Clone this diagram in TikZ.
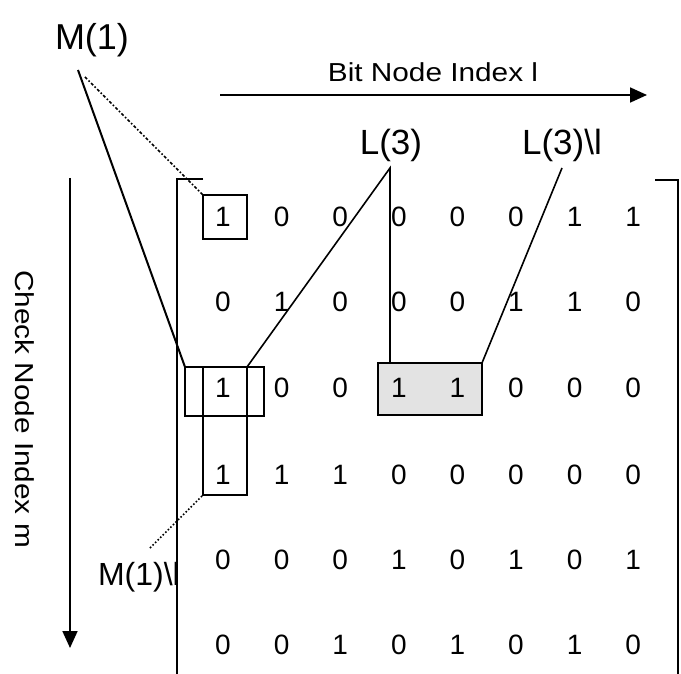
\documentclass[tikz,border=0pt]{standalone}
\usepackage{graphicx}
\usepackage{fontspec}
\setmainfont{Liberation Sans}
\usetikzlibrary{arrows.meta}
\begin{document}
\begin{tikzpicture}[x=1pt,y=-1pt,
  digit/.style={font=\fontsize{28}{28}\selectfont, inner sep=0pt},
  lbl/.style={font=\fontsize{35}{35}\selectfont, inner sep=0pt, anchor=base},
  axislbl/.style={font=\fontsize{26}{26}\selectfont, inner sep=0pt, anchor=base},
  hibox/.style={draw, line width=2.4pt, inner sep=0pt, outer sep=0pt},
  bracket/.style={line width=2.6pt},
  conn/.style={line width=1.6pt},
  axisarrow/.style={line width=1.8pt, -{Triangle[length=17pt,width=15pt]}}
]
\useasboundingbox (0,0) rectangle (681,674);

% highlight boxes (drawn first so digits lie on top)
\node[hibox, fill=gray!22, minimum width=104pt, minimum height=52pt] (greybox) at (430,389) {};
\node[hibox, minimum width=44pt, minimum height=44pt] (b11) at (225,217) {};
\node[hibox, minimum width=79pt, minimum height=49pt] (rowbox) at (224.5,391.5) {};
\node[hibox, minimum width=44pt, minimum height=128pt] (colbox) at (225,431) {};

% matrix entries
\foreach \r/\y/\vals in {1/217/{1,0,0,0,0,0,1,1},
                          2/302/{0,1,0,0,0,1,1,0},
                          3/388/{1,0,0,1,1,0,0,0},
                          4/475/{1,1,1,0,0,0,0,0},
                          5/560/{0,0,0,1,0,1,0,1},
                          6/645/{0,0,1,0,1,0,1,0}}{
  \foreach \v [count=\c] in \vals {
    \node[digit] (e-\r-\c) at ({223+(\c-1)*58.6},\y) {\v};
  }
}

% brackets
\draw[bracket] (203,179) -- (177,179) -- (177,674);
\draw[bracket] (655,180) -- (678,180) -- (678,674);

% labels
\node[lbl, font=\fontsize{36}{36}\selectfont] (M1) at (92,50) {M(1)};
\node[lbl] (L3) at (391,155) {L(3)};
\node[lbl] (L3l) at (562,155) {L(3)\textbackslash l};
\node[lbl, font=\fontsize{32}{32}\selectfont, anchor=base east] (M1l) at (180,585) {M(1)\textbackslash l};

% connectors
\coordinate (m1v) at (78,70);
\coordinate (m1w) at (85,77);
\draw[conn, line width=2pt] (m1v) -- (rowbox.north west);
\draw[conn, dash dot] (m1w) -- (b11.north west);

\coordinate (l3v) at (390,168);
\draw[conn] (colbox.north east) -- (l3v) -- (l3v |- greybox.north);

\coordinate (l3lv) at (562,168);
\draw[conn] (l3lv) -- (greybox.north east);

\coordinate (m1lv) at (150,548);
\draw[conn, dotted] (m1lv) -- (colbox.south west);

% axes
\coordinate (hA) at (220,95);
\coordinate (hB) at (647,95);
\draw[axisarrow] (hA) -- (hB);
\node[axislbl] (bitlbl) at (433,82) {\scalebox{1.145}[1]{Bit Node Index l}};

\coordinate (vA) at (70,178);
\coordinate (vB) at (70,648);
\draw[axisarrow] (vA) -- (vB);
\node[axislbl, rotate=-90] (chklbl) at (16,409) {\scalebox{1.145}[1]{Check Node Index m}};
\end{tikzpicture}
\end{document}
